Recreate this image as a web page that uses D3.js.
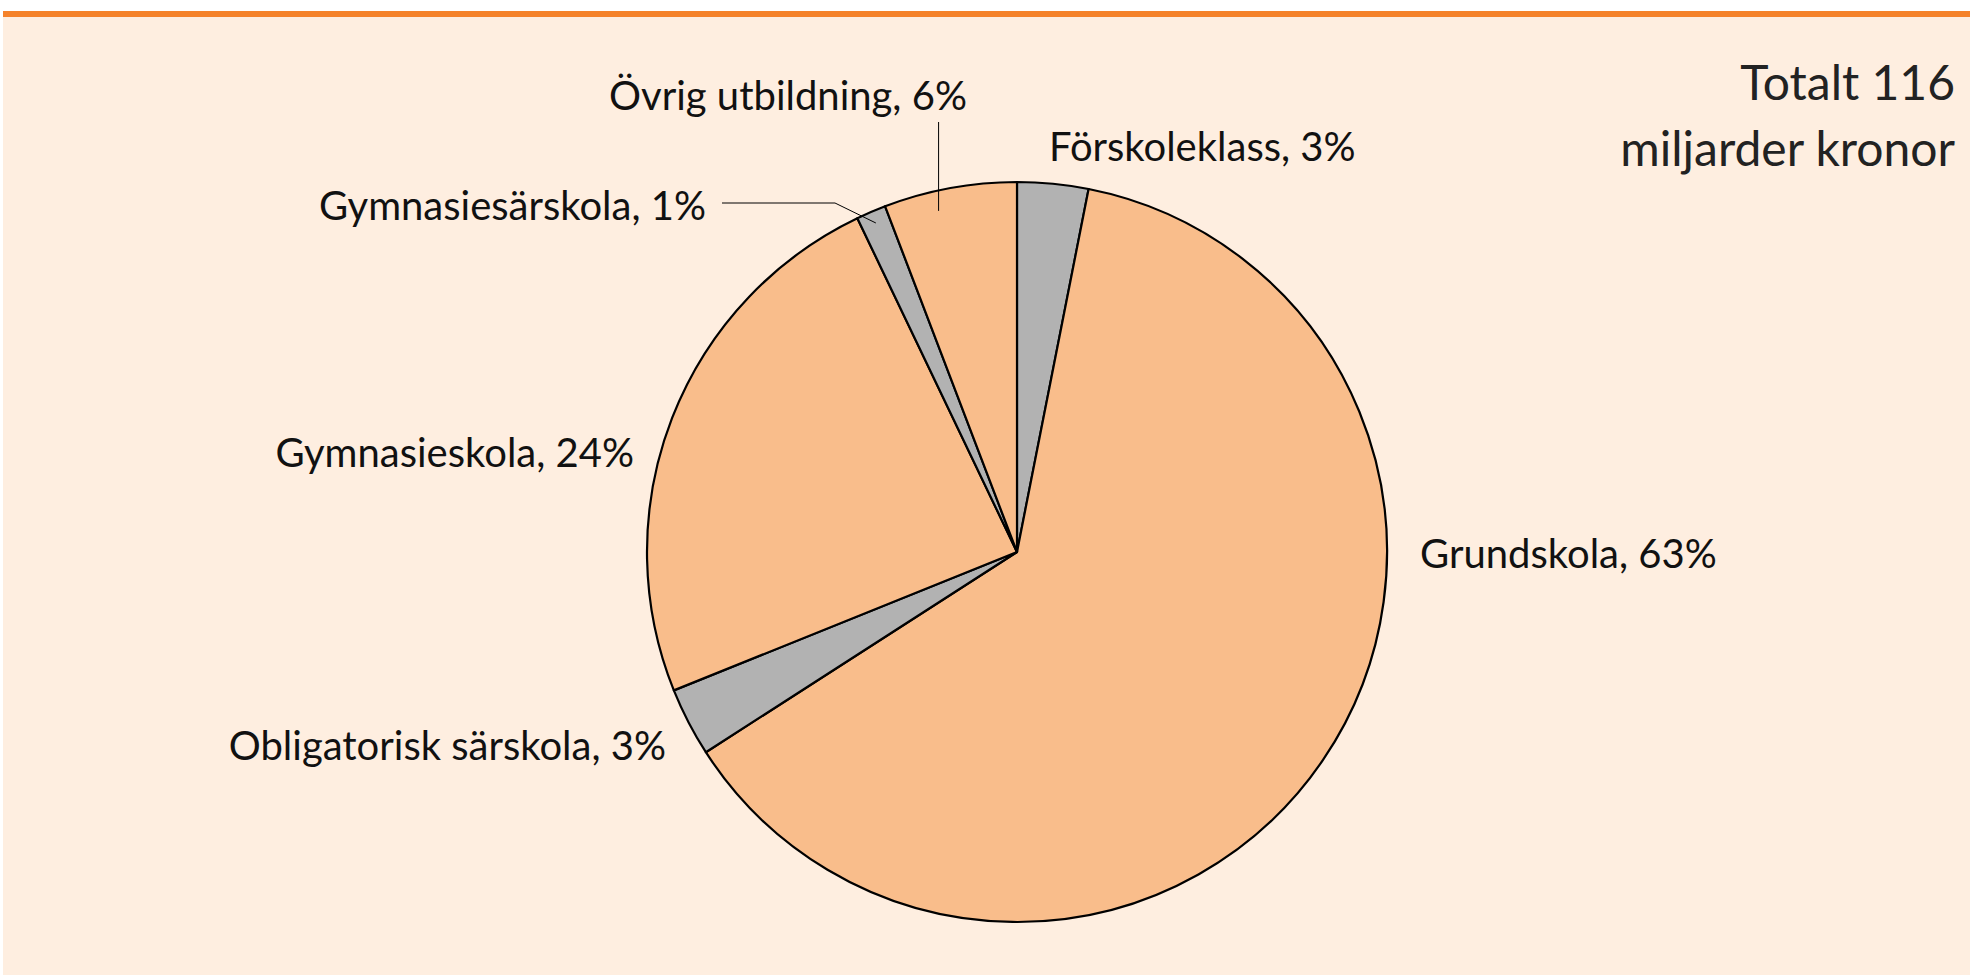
<!DOCTYPE html>
<html>
<head>
<meta charset="utf-8">
<script src="https://cdn.jsdelivr.net/npm/d3@7"></script>
<style>
  html, body { margin: 0; padding: 0; background: #fff; }
  svg { display: block; }
</style>
</head>
<body>
<div id="chart"></div>
<script>
// data (share of 116 miljarder kronor, clockwise from 12 o'clock)
const categories = ['Förskoleklass', 'Grundskola', 'Obligatorisk särskola', 'Gymnasieskola', 'Gymnasiesärskola', 'Övrig utbildning']
const shares = [3.1, 62.8, 3.0, 24.0, 1.3, 5.8]
const shareLabels = ['3%', '63%', '3%', '24%', '1%', '6%']
const sliceColors = ['#b2b2b2', '#f9bd8b', '#b2b2b2', '#f9bd8b', '#b2b2b2', '#f9bd8b']
const totalLines = ['Totalt 116', 'miljarder kronor']

const width = 1970
const height = 975
const cx = 1017
const cy = 552
const radius = 370

// label placement relative to pie centre
const labelLayout = {
  'Förskoleklass': { x: 32, y: -391, anchor: 'start' },
  'Grundskola': { x: 403, y: 16, anchor: 'start' },
  'Obligatorisk särskola': { x: -351, y: 208, anchor: 'end' },
  'Gymnasieskola': { x: -383, y: -85, anchor: 'end' },
  'Gymnasiesärskola': { x: -311, y: -332, anchor: 'end',
    leader: { at: 0.5, r: 358, via: [[-182, -349], [-295, -349]] } },
  'Övrig utbildning': { x: -229, y: -442, anchor: 'middle',
    leader: { at: 0.38, r: 350, vertical: -430 } }
}

const data = categories.map((c, i) => ({ name: c, value: shares[i], label: `${c}, ${shareLabels[i]}`, color: sliceColors[i] }))

const svg = d3.select('#chart').append('svg')
  .attr('width', width)
  .attr('height', height)

// background panel + top rule
svg.append('rect')
  .attr('x', 3).attr('y', 17)
  .attr('width', width - 3).attr('height', height - 17)
  .attr('fill', '#feeee0')
svg.append('rect')
  .attr('x', 3).attr('y', 11)
  .attr('width', width - 3).attr('height', 6)
  .attr('fill', '#f5822a')

const plot = svg.append('g')
  .attr('transform', `translate(${cx}, ${cy})`)

const pie = d3.pie().sort(null).value(d => d.value)
const arc = d3.arc().innerRadius(0).outerRadius(radius)
const arcs = pie(data)

plot.selectAll('path.slice')
  .data(arcs)
  .enter()
  .append('path')
  .attr('class', 'slice')
  .attr('d', arc)
  .attr('fill', d => d.data.color)
  .attr('stroke', '#000')
  .attr('stroke-width', 2.2)
  .attr('stroke-linejoin', 'round')

// leader lines
arcs.forEach(d => {
  const lay = labelLayout[d.data.name]
  if (!lay.leader) return
  const a = d.startAngle + (d.endAngle - d.startAngle) * lay.leader.at
  const px = Math.sin(a) * lay.leader.r
  const py = -Math.cos(a) * lay.leader.r
  let pts
  if (lay.leader.vertical !== undefined) {
    pts = [[px, py], [px, lay.leader.vertical]]
  } else {
    pts = [[px, py], ...lay.leader.via]
  }
  plot.append('path')
    .attr('d', d3.line()(pts))
    .attr('fill', 'none')
    .attr('stroke', '#000')
    .attr('stroke-width', 1)
})

// slice labels
plot.selectAll('text.label')
  .data(arcs)
  .enter()
  .append('text')
  .attr('class', 'label')
  .attr('x', d => labelLayout[d.data.name].x)
  .attr('y', d => labelLayout[d.data.name].y)
  .attr('text-anchor', d => labelLayout[d.data.name].anchor)
  .attr('font-family', 'Lato, sans-serif')
  .attr('font-size', '40px')
  .attr('fill', '#111')
  .text(d => d.data.label)

// total note
svg.selectAll('text.total')
  .data(totalLines)
  .enter()
  .append('text')
  .attr('class', 'total')
  .attr('x', 1955)
  .attr('y', (d, i) => 100 + i * 66)
  .attr('text-anchor', 'end')
  .attr('font-family', 'Lato, sans-serif')
  .attr('font-size', '48px')
  .attr('fill', '#222')
  .text(d => d)
</script>
</body>
</html>
